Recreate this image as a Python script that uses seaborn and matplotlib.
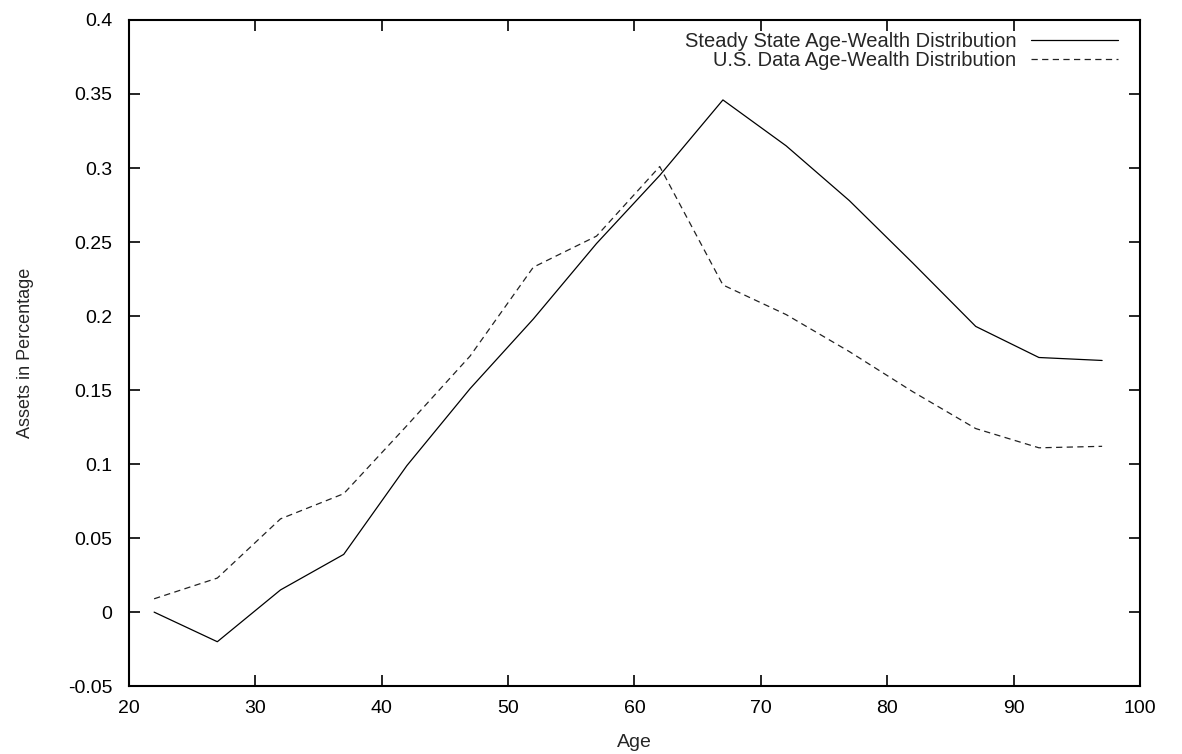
import numpy as np
import pandas as pd
import seaborn as sns
import matplotlib.pyplot as plt

# Age groups and wealth shares
ages = [22, 27, 32, 37, 42, 47, 52, 57, 62, 67, 72, 77, 82, 87, 92, 97]
steady_state = [0.0, -0.020, 0.015, 0.039, 0.099, 0.151, 0.198, 0.249, 0.295,
                0.346, 0.315, 0.278, 0.236, 0.193, 0.172, 0.170]
us_data = [0.009, 0.023, 0.063, 0.080, 0.126, 0.173, 0.233, 0.254, 0.301,
           0.221, 0.201, 0.176, 0.149, 0.124, 0.111, 0.112]
labels = ["Steady State Age-Wealth Distribution", "U.S. Data Age-Wealth Distribution"]

sns.set_theme(style="ticks")
plt.rcParams['font.family'] = ['Liberation Sans', 'DejaVu Sans']

fig = plt.figure(figsize=(11.82, 7.54), dpi=100)
ax = fig.add_axes([0.109, 0.090, 0.8555, 0.8835])

sns.lineplot(x=ages, y=steady_state, ax=ax, color="black", lw=0.9, label=labels[0])
sns.lineplot(x=ages, y=us_data, ax=ax, color="#222222", lw=0.9,
             linestyle=(0, (5, 3.5)), label=labels[1])

ax.set_xlim(20, 100)
ax.set_ylim(-0.05, 0.4)
ax.set_xticks(np.arange(20, 101, 10))
ax.set_yticks(np.arange(-0.05, 0.401, 0.05))
ax.set_yticklabels(["-0.05", "0", "0.05", "0.1", "0.15", "0.2", "0.25", "0.3", "0.35", "0.4"])

ax.tick_params(direction="in", length=8, width=1.2, top=True, right=True,
               labelsize=14, colors="black")
ax.tick_params(axis="y", pad=12)
ax.tick_params(axis="x", pad=10)
for s in ax.spines.values():
    s.set_linewidth(1.5)
    s.set_color("black")

ax.set_xlabel("Age", fontsize=14, labelpad=12)
ax.set_ylabel("Assets in Percentage", fontsize=13, labelpad=24)

leg = ax.legend(loc="upper right", bbox_to_anchor=(0.99, 1.0), frameon=False,
                markerfirst=False, fontsize=14.5, handlelength=4.3,
                handletextpad=0.75, labelspacing=0.0, borderpad=0.1)

fig.savefig("out.png", dpi=100)
